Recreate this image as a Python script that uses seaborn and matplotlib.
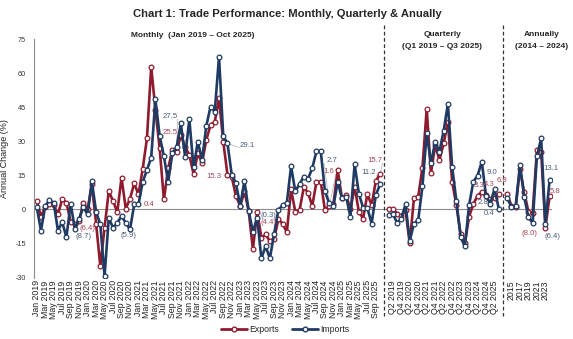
import numpy as np
import pandas as pd
import matplotlib
matplotlib.use("Agg")
import matplotlib.pyplot as plt
import seaborn as sns
from matplotlib.lines import Line2D

# ---------------- data ----------------
months = ["Jan", "Feb", "Mar", "Apr", "May", "Jun", "Jul", "Aug", "Sep", "Oct", "Nov", "Dec"]
monthly_labels = [f"{m} {y}" for y in range(2019, 2026) for m in months][:82]  # Jan 2019 - Oct 2025
quarterly_labels = [f"Q{q} {y}" for y in range(2019, 2026) for q in range(1, 5)][:27]  # Q1 2019 - Q3 2025
annual_labels = [str(y) for y in range(2014, 2025)]

monthly_exports = [3.7, -3.2, 1.2, 2.2, 1.9, -2.2, 4.4, 3.0, -5.4, -6.4, -5.1, 2.9,
                   0.0, 11.0, -6.2, -25.0, -8.0, 8.1, 3.7, -1.2, 14.0, 0.4, 4.7, 11.5,
                   6.6, 17.9, 31.3, 62.9, 44.0, 26.9, 4.4, 18.1, 26.2, 25.5, 32.8, 27.6,
                   24.0, 15.6, 24.7, 20.6, 30.6, 37.2, 38.7, 49.0, 29.9, 15.3, 14.4, 5.9,
                   1.5, 8.0, -0.7, -17.5, -1.0, -12.5, -11.0, -14.0, -13.0, -4.4, -6.2, -10.1,
                   8.8, -1.0, -0.3, 9.7, 7.4, 1.6, 12.2, 12.2, -0.3, 1.6, 2.4, 17.4,
                   4.9, 6.3, 0.0, 10.0, -1.0, -4.0, 6.8, 1.9, 12.5, 15.7]
monthly_imports = [1.0, -9.3, 1.5, 4.1, 2.9, -9.3, -5.6, -12.2, 2.6, -8.7, -4.0, 1.0,
                   -2.2, 12.5, -1.0, -6.6, -29.4, -3.7, -8.1, -5.9, -2.9, -5.9, -8.8, 2.2,
                   2.2, 12.1, 17.4, 22.8, 48.5, 32.4, 23.5, 12.2, 24.7, 27.5, 37.9, 23.2,
                   39.7, 18.5, 29.9, 21.8, 36.8, 45.3, 43.1, 67.4, 32.4, 29.1, 15.4, 11.5,
                   1.5, 12.6, -0.7, -9.8, -3.8, -21.6, -16.2, -21.6, -10.8, -0.3, 1.9, 2.9,
                   19.0, 8.0, 11.2, 14.5, 13.5, 18.2, 25.7, 25.7, 8.0, 2.7, 1.6, 12.2,
                   4.9, 5.6, -3.2, 20.0, 7.0, 0.7, 0.7, -6.2, 6.3, 11.2]

quarterly_exports = [0.4, 0.4, -1.8, -2.9, -0.3, -15.0, 5.1, 5.6, 18.4, 44.3, 15.9, 28.4,
                     21.8, 29.1, 38.7, 12.2, 1.9, -10.9, -15.0, -3.2, 2.4, 6.0, 7.8, 6.3,
                     4.4, 5.1, 6.8]
quarterly_imports = [-2.5, -1.8, -5.9, -4.0, 2.2, -13.8, -6.2, -4.7, 10.3, 33.5, 20.6, 29.6,
                     25.4, 34.7, 46.5, 18.8, 3.8, -12.1, -16.2, 1.9, 12.2, 14.9, 21.0, 5.9,
                     2.6, 9.0, 0.4]

annual_exports = [6.6, 1.6, 1.0, 18.0, 7.5, -1.0, -1.5, 26.4, 25.4, -8.0, 5.8]
annual_imports = [4.9, 1.2, 1.6, 19.6, 5.6, -3.5, -5.9, 23.5, 31.3, -6.4, 13.1]

# data-label texts and which series they belong to
label_texts = ["(6.4)", "(8.7)", "0.4", "(5.9)", "27.5", "25.5", "29.1", "15.3",
               "(0.3)", "(4.4)", "2.7", "1.6", "15.7", "11.2",
               "9.0", "6.8", "3.3", "4.3", "2.8", "0.4",
               "13.1", "5.8", "(8.0)", "(6.4)"]
label_series = ["Exports", "Imports", "Exports", "Imports", "Imports", "Exports", "Imports", "Exports",
                "Imports", "Exports", "Imports", "Exports", "Exports", "Imports",
                "Imports", "Exports", "Exports", "Exports", "Imports", "Imports",
                "Imports", "Exports", "Exports", "Imports"]

# ---------------- build category axis ----------------
categories = monthly_labels + [""] + quarterly_labels + [""] + annual_labels
gap1 = len(monthly_labels)
q0 = gap1 + 1
gap2 = q0 + len(quarterly_labels)
a0 = gap2 + 1

rows = []
for seg, (labels, ex, im, start) in enumerate([
        (monthly_labels, monthly_exports, monthly_imports, 0),
        (quarterly_labels, quarterly_exports, quarterly_imports, q0),
        (annual_labels, annual_exports, annual_imports, a0)]):
    for k in range(len(labels)):
        rows.append(dict(pos=start + k, value=ex[k], series="Exports", segment=seg))
        rows.append(dict(pos=start + k, value=im[k], series="Imports", segment=seg))
df = pd.DataFrame(rows)

# label positions (category position, y) -- layout only
lab_pos = [(11.9, -8.4), (11.0, -12.0), (26.6, 2.2), (21.6, -11.3), (31.4, 40.8), (31.4, 33.9),
           (49.6, 28.3), (41.7, 14.4), (54.6, -2.5), (54.6, -5.9), (69.6, 21.4), (68.8, 16.6),
           (79.8, 21.4), (78.4, 16.1),
           (107.5, 16.3), (109.8, 12.6), (104.4, 10.4), (106.7, 11.1), (105.2, 2.9), (106.7, -1.8),
           (121.2, 18.0), (122.2, 7.8), (116.3, -10.6), (121.7, -11.8)]
lab_targets = {4: (33, monthly_imports[33]), 5: (33, monthly_exports[33]),
               6: (45, monthly_imports[45]), 10: (69, monthly_imports[69]),
               11: (69, monthly_exports[69]), 12: (81, monthly_exports[81]),
               13: (81, monthly_imports[81])}

# ---------------- plot ----------------
sns.set_theme(style="white")
plt.rcParams["font.family"] = ["Liberation Sans", "DejaVu Sans"]

RED = "#8E1B2E"
BLUE = "#1F3A63"
RED_T = "#A5485A"
BLUE_T = "#4C5D7A"
colors = {"Exports": RED, "Imports": BLUE}
tcolors = {"Exports": RED_T, "Imports": BLUE_T}

fig = plt.figure(figsize=(5.73, 3.39), dpi=100)
ax = fig.add_axes([0.0599, 0.1814, 0.903, 0.7027])

for s in ["Exports", "Imports"]:
    sub = df[df.series == s]
    sns.lineplot(data=sub, x="pos", y="value", units="segment", estimator=None,
                 color=colors[s], linewidth=1.9, marker="o", markersize=3.4,
                 markerfacecolor="white", markeredgecolor=colors[s], markeredgewidth=0.9,
                 ax=ax, legend=False, sort=True)

ax.axhline(0, color="#8C8C8C", lw=0.8, zorder=0)
ax.set_xlim(-0.57, 121.5)
ax.set_ylim(-30, 75)
ax.set_yticks([-30, -15, 0, 15, 30, 45, 60, 75])
ax.set_yticklabels(["-30", "-15", "0", "15", "30", "45", "60", "75"], fontsize=5.2, color="#333333")
ticks = list(range(0, len(categories), 2))
ax.set_xticks(ticks)
ax.set_xticklabels([categories[t] for t in ticks], rotation=90, fontsize=6.3, color="#222222")
ax.tick_params(axis="x", length=0, pad=2)
ax.tick_params(axis="y", length=0, pad=6)
ax.set_xlabel("")
ax.set_ylabel("Annual Change (%)", fontsize=6.5, color="#222222", labelpad=5)
for sp in ["top", "right", "bottom"]:
    ax.spines[sp].set_visible(False)
ax.spines["left"].set_color("#8C8C8C")
ax.spines["left"].set_linewidth(0.8)

# dashed separators
trans = matplotlib.transforms.blended_transform_factory(ax.transData, ax.transAxes)
for g in [gap1, gap2]:
    ax.plot([g, g], [1.06, -0.16], transform=trans, clip_on=False, color="#333333",
            lw=0.9, ls=(0, (3, 2)))

# data labels
for k, (t, s, (px, py)) in enumerate(zip(label_texts, label_series, lab_pos)):
    ax.text(px, py, t, fontsize=5.6, color=tcolors[s], ha="center", va="center", zorder=5)
    if k in lab_targets:
        tx, ty = lab_targets[k]
        ax.plot([tx, px + (-1.8 if px > tx else 1.8)], [ty, py - 1.0], color="#B0B0B0", lw=0.5, zorder=1)

# titles
fig.text(287 / 573, 1 - 14 / 339, "Chart 1: Trade Performance: Monthly, Quarterly & Anually",
         ha="center", va="center", fontsize=8.1, fontweight="bold")
fig.text(193 / 573, 1 - 35.5 / 339, "Monthly  (Jan 2019 \u2013 Oct 2025)",
         ha="center", va="center", fontsize=6.0, fontweight="bold")
fig.text(442 / 573, 1 - 35 / 339, "Quarterly", ha="center", va="center", fontsize=6.0, fontweight="bold")
fig.text(442 / 573, 1 - 46 / 339, "(Q1 2019 \u2013 Q3 2025)", ha="center", va="center", fontsize=6.0, fontweight="bold")
fig.text(542 / 573, 1 - 35 / 339, "Annually", ha="center", va="center", fontsize=6.0, fontweight="bold")
fig.text(542 / 573, 1 - 46 / 339, "(2014 \u2013 2024)", ha="center", va="center", fontsize=6.0, fontweight="bold")

handles = [Line2D([], [], color=colors[s], lw=2, marker="o", markersize=3.4,
                  markerfacecolor="white", markeredgecolor=colors[s]) for s in ["Exports", "Imports"]]
fig.legend(handles, ["Exports", "Imports"], loc="center", bbox_to_anchor=(285 / 573, 1 - 330 / 339),
           ncol=2, frameon=False, fontsize=6.3, handlelength=3.0, columnspacing=1.5, handletextpad=0.2)

fig.savefig("out.png", dpi=100)
